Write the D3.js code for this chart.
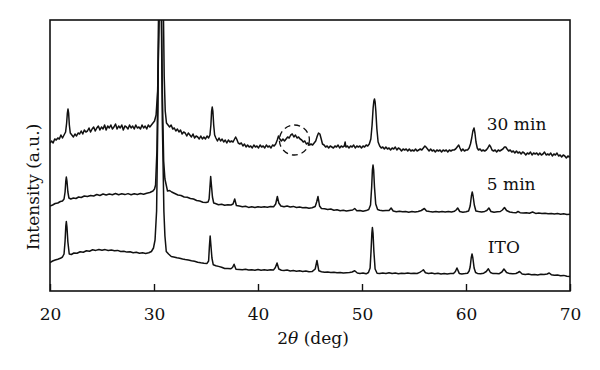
<!DOCTYPE html>
<html>
<head>
<meta charset="utf-8">
<script src="https://cdn.jsdelivr.net/npm/d3@7"></script>
<style>
  body { margin: 0; background: #fff; }
  text { font-family: "DejaVu Serif", "Liberation Serif", serif; fill: #111; }
</style>
</head>
<body>
<script>
// x ticks and series labels
const xTicks = [20, 30, 40, 50, 60, 70];
const seriesNames = ["30 min", "5 min", "ITO"];

// [2theta, intensity (a.u., stacked)]
const min30 = [[20.0,148],[20.15,150],[20.3,148],[20.45,152],[20.6,151],[20.75,153],[20.9,152],[21.05,156],[21.2,153],[21.35,156],[21.5,159],[21.6,168],[21.67,178],[21.73,182],[21.79,178],[21.86,166],[21.95,158],[22.1,156],[22.25,154],[22.4,157],[22.55,155],[22.7,158],[22.85,157],[23.0,160],[23.15,157],[23.3,161],[23.45,159],[23.6,160],[23.75,163],[23.9,159],[24.05,162],[24.2,164],[24.35,160],[24.5,163],[24.65,165],[24.8,161],[24.95,164],[25.1,162],[25.25,166],[25.4,161],[25.55,165],[25.7,163],[25.85,166],[26.0,162],[26.15,164],[26.3,167],[26.45,162],[26.6,165],[26.75,163],[26.9,166],[27.05,161],[27.2,165],[27.35,164],[27.5,162],[27.65,166],[27.8,163],[27.95,165],[28.1,162],[28.25,166],[28.4,163],[28.55,164],[28.7,162],[28.85,166],[29.0,163],[29.15,165],[29.3,162],[29.45,166],[29.6,164],[29.75,166],[29.9,168],[30.05,170],[30.2,176],[30.35,200],[30.5,275],[30.68,420],[30.88,300],[30.98,215],[31.08,180],[31.2,168],[31.35,166],[31.5,164],[31.65,166],[31.8,162],[31.95,163],[32.1,160],[32.25,162],[32.4,159],[32.55,161],[32.7,157],[32.85,159],[33.0,158],[33.15,155],[33.3,158],[33.45,156],[33.6,154],[33.75,157],[33.9,153],[34.05,155],[34.2,154],[34.35,152],[34.5,155],[34.65,152],[34.8,154],[34.95,152],[35.1,155],[35.25,153],[35.38,156],[35.47,166],[35.54,180],[35.6,184],[35.66,180],[35.74,166],[35.83,156],[35.95,153],[36.1,150],[36.25,153],[36.4,150],[36.55,152],[36.7,149],[36.85,151],[37.0,148],[37.15,151],[37.3,149],[37.45,150],[37.6,149],[37.75,152],[37.85,154],[37.95,152],[38.1,148],[38.25,147],[38.4,148],[38.55,145],[38.7,147],[38.85,144],[39.0,146],[39.15,144],[39.3,145],[39.45,143],[39.6,146],[39.75,144],[39.9,145],[40.05,143],[40.2,146],[40.35,144],[40.5,145],[40.65,143],[40.8,146],[40.95,144],[41.1,145],[41.25,143],[41.4,146],[41.55,145],[41.7,147],[41.85,151],[41.97,155],[42.1,152],[42.25,150],[42.4,152],[42.55,150],[42.7,152],[42.85,154],[43.0,153],[43.15,156],[43.3,157],[43.45,154],[43.6,156],[43.75,153],[43.9,154],[44.05,152],[44.2,151],[44.35,149],[44.5,150],[44.65,147],[44.8,148],[44.95,146],[45.1,147],[45.25,146],[45.4,148],[45.55,150],[45.7,155],[45.82,158],[45.95,157],[46.08,152],[46.2,147],[46.35,146],[46.5,144],[46.65,145],[46.8,143],[46.95,145],[47.1,144],[47.25,143],[47.4,145],[47.55,144],[47.7,146],[47.85,143],[48.0,145],[48.15,144],[48.3,145],[48.38,149],[48.45,144],[48.6,145],[48.75,143],[48.9,145],[49.05,144],[49.2,146],[49.35,143],[49.5,145],[49.65,144],[49.8,145],[49.95,143],[50.1,145],[50.25,144],[50.4,146],[50.55,145],[50.7,147],[50.85,152],[50.97,166],[51.07,183],[51.14,190],[51.2,192],[51.26,189],[51.33,180],[51.43,162],[51.55,149],[51.7,145],[51.85,143],[52.0,144],[52.15,142],[52.3,144],[52.45,142],[52.6,143],[52.75,141],[52.9,143],[53.05,142],[53.2,144],[53.35,141],[53.5,143],[53.65,142],[53.8,140],[53.95,142],[54.1,141],[54.25,142],[54.4,140],[54.55,142],[54.7,140],[54.85,141],[55.0,140],[55.15,142],[55.3,140],[55.45,141],[55.6,142],[55.75,141],[55.9,143],[56.05,145],[56.15,144],[56.3,142],[56.45,140],[56.6,142],[56.75,140],[56.9,141],[57.05,139],[57.2,141],[57.35,140],[57.5,141],[57.65,139],[57.8,141],[57.95,140],[58.1,141],[58.25,139],[58.4,141],[58.55,140],[58.7,141],[58.85,141],[59.0,142],[59.15,144],[59.3,146],[59.42,143],[59.55,140],[59.7,142],[59.85,140],[60.0,141],[60.15,141],[60.3,143],[60.43,147],[60.55,153],[60.66,160],[60.77,163],[60.86,158],[60.96,149],[61.08,143],[61.2,141],[61.35,142],[61.5,140],[61.65,141],[61.8,140],[61.95,141],[62.1,143],[62.25,146],[62.38,144],[62.5,141],[62.65,140],[62.8,141],[62.95,139],[63.1,141],[63.25,140],[63.4,141],[63.55,142],[63.7,144],[63.82,144],[63.95,142],[64.1,140],[64.25,141],[64.4,139],[64.55,140],[64.7,138],[64.85,140],[65.0,138],[65.15,139],[65.3,137],[65.45,139],[65.6,138],[65.75,136],[65.9,138],[66.05,137],[66.2,139],[66.35,136],[66.5,138],[66.65,137],[66.8,138],[66.95,136],[67.1,138],[67.25,136],[67.4,137],[67.55,139],[67.7,136],[67.85,137],[68.0,136],[68.15,138],[68.3,135],[68.45,137],[68.6,136],[68.75,138],[68.9,135],[69.05,136],[69.2,134],[69.35,136],[69.5,135],[69.65,133],[69.8,135],[70.0,134]];

const min5 = [[20.0,85],[20.25,86],[20.5,87.5],[20.75,88],[21.0,89.5],[21.2,90],[21.35,92],[21.45,99],[21.52,110],[21.57,114],[21.63,110],[21.72,99],[21.82,93],[22.0,92],[22.25,93],[22.5,92.5],[22.75,94],[23.0,93.5],[23.3,95],[23.6,94.5],[23.9,95.5],[24.2,95],[24.5,96.5],[24.8,95.5],[25.1,97],[25.4,96],[25.7,97],[26.0,96.2],[26.3,97.5],[26.6,96.3],[26.9,97.2],[27.2,96.4],[27.5,97.4],[27.8,96.2],[28.1,97.3],[28.4,96.5],[28.7,97.5],[29.0,96.8],[29.3,97.8],[29.6,98.5],[29.9,100],[30.05,102],[30.15,106],[30.28,140],[30.4,230],[30.5,330],[30.58,420],[30.68,320],[30.8,200],[30.93,130],[31.05,112],[31.3,100],[31.5,100.5],[31.7,99],[32.0,97.5],[32.3,96],[32.6,95.5],[32.9,94],[33.2,93.8],[33.5,92.5],[33.8,92],[34.1,90.5],[34.4,90],[34.7,88.8],[35.0,88.5],[35.2,89],[35.3,92],[35.38,104],[35.45,114.5],[35.52,106],[35.62,94],[35.74,88],[35.9,87.5],[36.2,86.3],[36.5,86.8],[36.8,85.8],[37.1,86.3],[37.4,86],[37.6,87],[37.76,92],[37.92,85.5],[38.2,85],[38.5,84.2],[38.8,84.8],[39.1,83.6],[39.4,84.3],[39.7,83.5],[40.0,84.2],[40.3,83.7],[40.6,84.3],[40.9,83.8],[41.2,84.5],[41.5,84.3],[41.7,87],[41.86,94.5],[42.0,88],[42.2,85],[42.5,84.3],[42.8,85],[43.1,84],[43.4,84.6],[43.7,83.5],[44.0,84],[44.3,83.2],[44.6,83.6],[44.9,82.8],[45.2,83.2],[45.5,84.5],[45.64,89],[45.77,94.5],[45.92,85],[46.1,82.5],[46.4,82.3],[46.7,81.5],[47.0,82],[47.3,80.8],[47.6,81.2],[47.9,80.3],[48.2,80.8],[48.5,80],[48.8,80.6],[49.1,81],[49.3,82.5],[49.5,80.3],[49.8,80.6],[50.1,79.8],[50.4,80.4],[50.65,81.5],[50.82,86],[50.93,104],[51.0,121],[51.06,126],[51.12,121],[51.2,104],[51.32,87],[51.5,81.5],[51.7,80.8],[52.0,80.2],[52.3,80.6],[52.6,80.5],[52.8,83],[53.0,80],[53.3,79.2],[53.6,79.8],[53.9,79.2],[54.2,79.6],[54.5,78.8],[54.8,79.4],[55.1,79],[55.4,79.5],[55.7,80.5],[55.85,81.5],[56.0,82.5],[56.2,80],[56.5,79.4],[56.8,79],[57.1,79.6],[57.4,79],[57.7,79.5],[58.0,79.1],[58.3,79.6],[58.6,79],[58.9,79.8],[59.05,81],[59.2,83],[59.4,79.5],[59.7,78.8],[60.0,79.2],[60.25,80],[60.4,85],[60.52,95],[60.6,99],[60.68,95],[60.8,86],[60.95,80],[61.2,79.5],[61.5,79],[61.8,79.6],[62.0,80.5],[62.2,83],[62.4,79.5],[62.7,78.8],[63.0,79.2],[63.3,79.5],[63.5,81],[63.7,83.5],[63.9,80.5],[64.2,79],[64.5,78.5],[64.8,78.2],[65.0,79.5],[65.2,78.3],[65.5,78],[65.8,78.3],[66.1,77.8],[66.4,79],[66.7,77.6],[67.0,77.9],[67.3,77.4],[67.6,77.8],[67.9,77.2],[68.2,77.6],[68.5,77],[68.8,77.4],[69.1,76.8],[69.4,77.2],[69.7,76.6],[70.0,76.7]];

const ito = [[20.0,28.5],[20.25,30],[20.5,31],[20.75,31.8],[21.0,32.7],[21.2,34],[21.35,37],[21.45,50],[21.52,65],[21.57,69.5],[21.63,64],[21.72,49],[21.85,37],[22.05,36.5],[22.3,38],[22.6,37.8],[22.9,39.3],[23.2,38.8],[23.5,40.2],[23.8,39.8],[24.1,41.2],[24.4,40.6],[24.7,41.5],[25.0,40.8],[25.3,41.4],[25.6,40.5],[25.9,41],[26.2,40.2],[26.5,40.6],[26.8,39.5],[27.1,39.8],[27.4,38.9],[27.7,39.2],[28.0,38.3],[28.3,38.7],[28.6,37.8],[28.9,38.2],[29.2,37.6],[29.5,38.3],[29.75,39.5],[29.95,43],[30.1,51],[30.25,80],[30.38,180],[30.48,320],[30.57,420],[30.67,320],[30.8,170],[30.95,80],[31.05,55],[31.18,39.5],[31.4,37],[31.66,34.5],[31.9,34],[32.2,33.2],[32.47,32.8],[32.75,32],[33.0,31.5],[33.3,31],[33.6,30.2],[33.9,29.8],[34.2,28.7],[34.5,28.2],[34.8,27.8],[35.1,27.6],[35.25,30],[35.33,45],[35.4,55],[35.47,46],[35.57,33],[35.7,26.2],[35.95,25.3],[36.2,24.6],[36.5,23.8],[36.8,22.5],[37.1,22.6],[37.4,22.3],[37.55,23.5],[37.7,26.8],[37.88,21.8],[38.2,21.5],[38.5,21.2],[38.8,21.7],[39.1,20.9],[39.4,21.3],[39.7,20.8],[40.0,21.4],[40.3,20.8],[40.6,21.2],[40.9,20.7],[41.2,21.2],[41.5,21.1],[41.67,23.5],[41.83,28],[42.0,22],[42.25,20.8],[42.5,20.4],[42.8,20.9],[43.1,20.1],[43.4,20.5],[43.7,19.8],[44.0,20.2],[44.3,19.5],[44.6,19.9],[44.9,19.2],[45.2,19.4],[45.5,22],[45.67,30.5],[45.85,20.2],[46.1,19.2],[46.4,18.7],[46.7,19.1],[47.0,18.4],[47.3,18.8],[47.6,18.2],[47.9,18.6],[48.2,17.9],[48.5,18.2],[48.8,18.4],[49.05,19],[49.3,20.2],[49.55,18],[49.8,17.6],[50.1,17.9],[50.4,17.2],[50.62,18.5],[50.78,23],[50.87,40],[50.95,58],[51.0,63.5],[51.06,58],[51.14,40],[51.26,22],[51.45,17.8],[51.7,17.5],[52.0,18],[52.3,17.6],[52.6,18.2],[52.9,17.5],[53.2,17.9],[53.5,17.3],[53.8,17.8],[54.1,17.4],[54.4,18],[54.7,17.6],[55.0,17.8],[55.3,17.5],[55.55,18.6],[55.75,20],[55.9,21.2],[56.1,18.2],[56.4,17.6],[56.7,17.9],[57.0,17.3],[57.3,17.7],[57.6,17.1],[57.9,17.6],[58.2,17],[58.5,17.4],[58.8,17.5],[58.98,19.5],[59.13,23],[59.35,17.6],[59.6,17],[59.9,17.4],[60.15,17.8],[60.3,20],[60.4,24],[60.5,33],[60.58,37],[60.66,33],[60.78,23],[60.92,18.5],[61.1,17.6],[61.4,17.3],[61.7,17.8],[61.95,19.5],[62.15,22.2],[62.35,18.5],[62.6,17.4],[62.9,17.6],[63.2,17.3],[63.45,19],[63.65,22],[63.9,18.5],[64.2,17.4],[64.5,17.2],[64.8,17.5],[65.0,18.5],[65.15,19.5],[65.4,17],[65.7,16.5],[66.0,16.9],[66.3,16.2],[66.6,16.6],[66.9,16],[67.2,16.7],[67.5,16.4],[67.8,17],[68.0,18],[68.2,16.3],[68.5,15.7],[68.8,16],[69.1,15.2],[69.4,15.6],[69.7,14.7],[70.0,14.5]];

// circled feature near 43.5 deg on the 30 min pattern
const circled = [43.5, 151];

const W = 600, H = 370;
const margin = { top: 20, right: 30, bottom: 79, left: 50 };
const iw = W - margin.left - margin.right;
const ih = H - margin.top - margin.bottom;

const svg = d3.select("body").append("svg")
  .attr("width", W)
  .attr("height", H);

const g = svg.append("g")
  .attr("transform", `translate(${margin.left},${margin.top})`);

const x = d3.scaleLinear().domain([20, 70]).range([0, iw]);
const y = d3.scaleLinear().domain([0, ih]).range([ih, 0]);

g.append("clipPath").attr("id", "plot-clip")
  .append("rect").attr("width", iw).attr("height", ih);

const line = d3.line()
  .x(d => x(d[0]))
  .y(d => y(d[1]));

const traces = [min30, min5, ito];

g.append("g").attr("clip-path", "url(#plot-clip)")
  .selectAll("path")
  .data(traces)
  .enter().append("path")
  .attr("d", line)
  .attr("fill", "none")
  .attr("stroke", "#111")
  .attr("stroke-width", 1.5)
  .attr("stroke-linejoin", "round");

// dashed circle
g.append("circle")
  .attr("cx", x(circled[0]))
  .attr("cy", y(circled[1]))
  .attr("r", 15)
  .attr("fill", "none")
  .attr("stroke", "#111")
  .attr("stroke-width", 1.3)
  .attr("stroke-dasharray", "6,4");

// bottom axis with inward ticks
const xAxis = d3.axisBottom(x)
  .tickValues(xTicks)
  .tickSizeInner(-7)
  .tickSizeOuter(0)
  .tickPadding(17);

const ax = g.append("g")
  .attr("transform", `translate(0,${ih})`)
  .call(xAxis);
ax.select(".domain").remove();
ax.selectAll(".tick line").attr("stroke", "#111").attr("stroke-width", 1.4);
ax.selectAll(".tick text")
  .style("font-family", '"DejaVu Serif", serif')
  .style("font-size", "17px")
  .attr("fill", "#111");

// frame
g.append("rect")
  .attr("width", iw)
  .attr("height", ih)
  .attr("fill", "none")
  .attr("stroke", "#111")
  .attr("stroke-width", 1.6);

// series labels
const labelPos = [[62.0, 161], [62.0, 101], [62.1, 38]];
g.selectAll(".series-label")
  .data(seriesNames)
  .enter().append("text")
  .attr("class", "series-label")
  .attr("x", (d, i) => x(labelPos[i][0]))
  .attr("y", (d, i) => y(labelPos[i][1]))
  .style("font-size", "17px")
  .text(d => d);

// axis titles
const xt = svg.append("text")
  .attr("x", margin.left + iw / 2 + 3)
  .attr("y", 344)
  .attr("text-anchor", "middle")
  .style("font-size", "17px");
xt.append("tspan").text("2");
xt.append("tspan").style("font-style", "italic").text("θ");
xt.append("tspan").text(" (deg)");

svg.append("text")
  .attr("transform", "translate(39,187) rotate(-90)")
  .attr("text-anchor", "middle")
  .style("font-size", "17px")
  .text("Intensity (a.u.)");
</script>
</body>
</html>
